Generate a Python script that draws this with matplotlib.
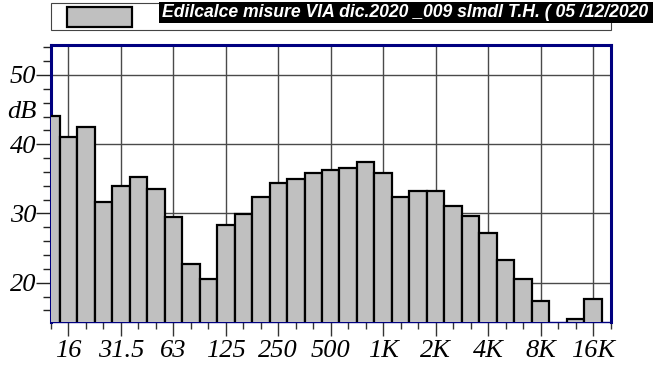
import matplotlib
matplotlib.use("Agg")
import matplotlib.pyplot as plt
from matplotlib.patches import Rectangle
import numpy as np

# ---- data ----
bands = ["12.5", "16", "20", "25", "31.5", "40", "50", "63", "80", "100", "125", "160",
         "200", "250", "315", "400", "500", "630", "800", "1K", "1.25K", "1.6K", "2K",
         "2.5K", "3.15K", "4K", "5K", "6.3K", "8K", "10K", "12.5K", "16K"]
levels_db = [44.1, 41.1, 42.5, 31.7, 34.0, 35.2, 33.6, 29.5, 22.7, 20.5, 28.4, 29.9,
             32.4, 34.4, 35.0, 35.9, 36.3, 36.5, 37.4, 35.8, 32.4, 33.2, 33.2,
             31.1, 29.6, 27.2, 23.3, 20.6, 17.3, 13.0, 14.7, 17.6]
octave_labels = ["16", "31.5", "63", "125", "250", "500", "1K", "2K", "4K", "8K", "16K"]
y_labels = [20, 30, 40, 50]
legend_text = "Edilcalce misure VIA dic.2020 _009 slmdl T.H. ( 05 /12/2020"

W, H = 665, 367
fig = plt.figure(figsize=(W / 100, H / 100), dpi=100)

def fx(x):
    return x / W

def fy(y):
    return 1 - y / H

ax_l, ax_r, ax_t, ax_b = 51, 610.5, 44.5, 321.7
ax = fig.add_axes([fx(ax_l), fy(ax_b), fx(ax_r) - fx(ax_l), fy(ax_t) - fy(ax_b)])

x = np.arange(len(bands))
ax.bar(x, levels_db, width=1.0, color="#c0c0c0", edgecolor="black", linewidth=1.6, zorder=3)

ax.set_xlim(0, len(bands))
ax.set_ylim(14.36, 54.4)

grid_col = "#4a4a4a"
oct_idx = [bands.index(l) for l in octave_labels]
for i in oct_idx:
    ax.axvline(i, color=grid_col, lw=1.0, zorder=1)
for v in y_labels:
    ax.axhline(v, color=grid_col, lw=1.0, zorder=1)

# ticks
ax.set_xticks(oct_idx)
ax.set_xticklabels(octave_labels)
ax.set_xticks(np.arange(0, len(bands) + 1), minor=True)
ax.set_yticks(y_labels)
ax.set_yticklabels([str(v) for v in y_labels])
ax.set_yticks(np.arange(16, 55, 2), minor=True)

for lab in ax.get_xticklabels() + ax.get_yticklabels():
    lab.set_fontfamily("Liberation Serif")
    lab.set_fontstyle("italic")
    lab.set_fontsize(19)
    lab.set_color("black")

ax.tick_params(axis="x", which="major", direction="out", length=10, width=1, color="#333333", pad=3.5)
ax.tick_params(axis="x", which="minor", direction="out", length=5, width=1, color="#333333")
ax.tick_params(axis="y", which="major", direction="out", length=10.5, width=1, color="#222222", pad=0)
ax.tick_params(axis="y", which="minor", direction="out", length=6, width=1, color="#222222")

for s in ["left", "top", "right"]:
    ax.spines[s].set_color("#000080")
    ax.spines[s].set_linewidth(2.2)
ax.spines["bottom"].set_color("#000080")
ax.spines["bottom"].set_linewidth(1.0)

ax.text(-0.026, 0.755, "dB", transform=ax.transAxes, ha="right", va="center",
        fontfamily="Liberation Serif", fontstyle="italic", fontsize=19)

# ---- legend ----
fig.add_artist(Rectangle((fx(51), fy(29.6)), fx(610.5) - fx(51), fy(3.3) - fy(29.6),
                         transform=fig.transFigure, facecolor="white", edgecolor="#444444",
                         lw=0.8))
fig.add_artist(Rectangle((fx(66.7), fy(26.7)), fx(131.7) - fx(66.7), fy(6.7) - fy(26.7),
                         transform=fig.transFigure, facecolor="#c0c0c0", edgecolor="black",
                         lw=1.6))
fig.add_artist(Rectangle((fx(159), fy(23.3)), fx(653) - fx(159), fy(1.8) - fy(23.3),
                         transform=fig.transFigure, facecolor="black", edgecolor="none"))
fig.text(fx(161.5), fy(12.8), legend_text, color="white", ha="left", va="center",
         fontfamily="Liberation Sans", fontweight="bold", fontstyle="italic", fontsize=12.7)

fig.savefig("out.png", dpi=100)
